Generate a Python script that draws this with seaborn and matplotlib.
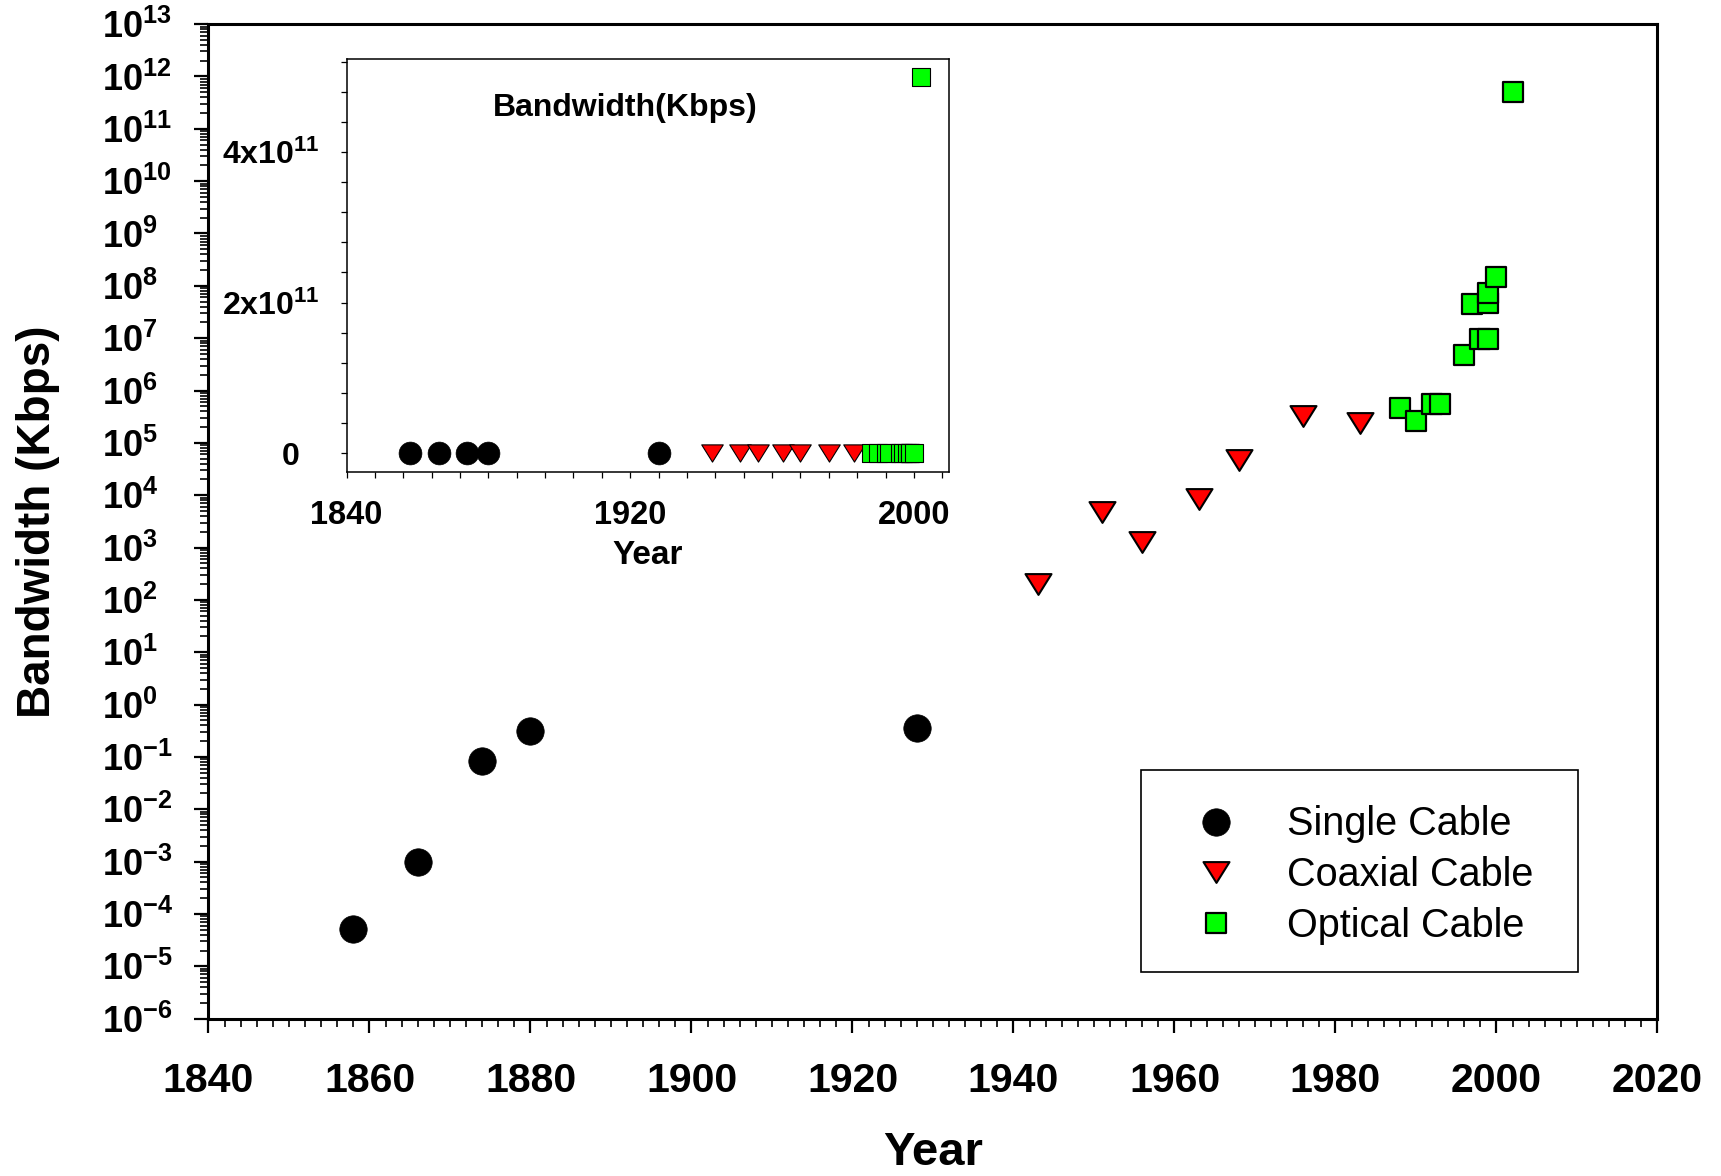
import numpy as np
import pandas as pd
import matplotlib
matplotlib.use("Agg")
import matplotlib.pyplot as plt
import matplotlib.patches as mpatches
import seaborn as sns
from matplotlib.ticker import MultipleLocator, LogLocator, NullFormatter
from matplotlib.markers import MarkerStyle
from matplotlib.path import Path

# ---------------- data ----------------
series_names = ["Single Cable", "Coaxial Cable", "Optical Cable"]

single_years = [1858, 1866, 1874, 1880, 1928]
single_bw = [5.2e-5, 1.0e-3, 8.5e-2, 3.1e-1, 3.6e-1]

coax_years = [1943, 1951, 1956, 1963, 1968, 1976, 1983]
coax_bw = [2.0e2, 4.8e3, 1.3e3, 8.5e3, 4.7e4, 3.2e5, 2.4e5]

optical_years = [1988, 1990, 1992, 1993, 1996, 1997, 1998, 1999, 1999, 1999, 2000, 2002]
optical_bw = [4.7e5, 2.6e5, 5.5e5, 5.5e5, 4.7e6, 4.5e7, 9.5e6, 9.5e6, 4.6e7, 7.4e7, 1.5e8, 5.0e11]

x_ticks = [1840, 1860, 1880, 1900, 1920, 1940, 1960, 1980, 2000, 2020]
x_tick_labels = [str(v) for v in x_ticks]
y_exponents = list(range(-6, 14))
y_tick_labels = [r"$\mathbf{10^{%d}}$" % e for e in y_exponents]

inset_x_ticks = [1840, 1920, 2000]
inset_x_tick_labels = ["1840", "1920", "2000"]
inset_y_ticks = [0, 2e11, 4e11]
inset_y_tick_labels = [r"$\mathbf{0}$", r"$\mathbf{2x10^{11}}$", r"$\mathbf{4x10^{11}}$"]

single_df = pd.DataFrame({"Year": single_years, "Bandwidth": single_bw})
coax_df = pd.DataFrame({"Year": coax_years, "Bandwidth": coax_bw})
optical_df = pd.DataFrame({"Year": optical_years, "Bandwidth": optical_bw})

# ---------------- style ----------------
sns.set_style("white")
plt.rcParams["font.family"] = ["Liberation Sans", "DejaVu Sans"]
plt.rcParams["mathtext.fontset"] = "custom"
plt.rcParams["mathtext.rm"] = "Liberation Sans"
plt.rcParams["mathtext.bf"] = "Liberation Sans:bold"
plt.rcParams["mathtext.it"] = "Liberation Sans:italic"
for key in ["text.color", "axes.labelcolor", "xtick.color", "ytick.color", "axes.edgecolor"]:
    plt.rcParams[key] = "black"

tri_path = Path([(-1, 0.8), (1, 0.8), (0, -0.8), (-1, 0.8)],
                [Path.MOVETO, Path.LINETO, Path.LINETO, Path.CLOSEPOLY])
tri_marker = MarkerStyle(tri_path)

fig = plt.figure(figsize=(17.21, 11.76), dpi=100)
ax = fig.add_axes([0.12115, 0.13384, 0.84190, 0.84566])

sns.scatterplot(data=single_df, x="Year", y="Bandwidth", marker="o", color="black",
                edgecolor="black", linewidth=0.5, s=390, ax=ax, zorder=3, legend=False)
sns.scatterplot(data=coax_df, x="Year", y="Bandwidth", marker=tri_marker, color="#ff0000",
                edgecolor="black", linewidth=1.5, s=350, ax=ax, zorder=3, legend=False)
sns.scatterplot(data=optical_df, x="Year", y="Bandwidth", marker="s", color="#00ff00",
                edgecolor="black", linewidth=1.6, s=228, ax=ax, zorder=3, legend=False)

ax.set_yscale("log")
ax.set_xlim(1840, 2020)
ax.set_ylim(1e-6, 1e13)
ax.set_xticks(x_ticks, x_tick_labels, fontsize=29.5, fontweight="bold")
ax.xaxis.set_minor_locator(MultipleLocator(2))
ax.set_yticks([10.0 ** e for e in y_exponents], y_tick_labels, fontsize=26)
ax.yaxis.set_minor_locator(LogLocator(base=10, subs=np.arange(2, 10) * 1.0, numticks=1000))
ax.yaxis.set_minor_formatter(NullFormatter())

ax.tick_params(axis="both", which="major", direction="out", length=10, width=1.6,
               color="black", bottom=True, left=True, top=False, right=False)
ax.tick_params(axis="both", which="minor", direction="out", length=6, width=1.2,
               color="black", bottom=True, left=True, top=False, right=False)
ax.tick_params(axis="x", which="major", pad=21.5)
ax.tick_params(axis="y", which="major", pad=67)
for lbl in ax.get_yticklabels():
    lbl.set_horizontalalignment("left")

for sp in ax.spines.values():
    sp.set_color("black")
    sp.set_linewidth(2.2)

ax.set_xlabel("Year", fontsize=34, fontweight="bold")
ax.set_ylabel("Bandwidth (Kbps)", fontsize=33, fontweight="bold")
ax.xaxis.set_label_coords(0.5, -0.113)
ax.yaxis.set_label_coords(-0.1025, 0.5)

# legend: frame drawn as a box, entries placed inside it
legend_box = mpatches.Rectangle((0.6433, 0.0469), 0.3016, 0.2031, transform=ax.transAxes,
                                facecolor="white", edgecolor="black", linewidth=1.2,
                                zorder=4, clip_on=False)
ax.add_patch(legend_box)
handles = ax.collections[:3]
leg = ax.legend(handles=handles, labels=series_names, loc="upper left",
                bbox_to_anchor=(0.6433, 0.2434), borderaxespad=0, frameon=False,
                prop={"size": 28.5, "weight": "normal"}, borderpad=0.73,
                handlelength=2.37, handletextpad=0.61, labelspacing=0.32,
                scatterpoints=1, scatteryoffsets=[0.5])
leg.set_zorder(5)

# ---------------- inset ----------------
ax_in = fig.add_axes([0.20134, 0.59889, 0.35032, 0.35136])
ax_in.set_facecolor("white")
sns.scatterplot(data=single_df, x="Year", y="Bandwidth", marker="o", color="black",
                edgecolor="black", linewidth=0.5, s=270, ax=ax_in, zorder=3, legend=False)
sns.scatterplot(data=coax_df, x="Year", y="Bandwidth", marker=tri_marker, color="#ff0000",
                edgecolor="black", linewidth=0.8, s=240, ax=ax_in, zorder=3, legend=False)
sns.scatterplot(data=optical_df, x="Year", y="Bandwidth", marker="s", color="#00ff00",
                edgecolor="black", linewidth=0.8, s=180, ax=ax_in, zorder=3, legend=False)

ax_in.set_xlim(1840, 2010)
ax_in.set_ylim(-2.44e10, 5.24e11)
ax_in.set_xticks(inset_x_ticks, inset_x_tick_labels, fontsize=23.5, fontweight="bold")
ax_in.xaxis.set_minor_locator(MultipleLocator(8))
ax_in.set_yticks(inset_y_ticks, inset_y_tick_labels, fontsize=23)
ax_in.yaxis.set_minor_locator(MultipleLocator(4e10))
ax_in.tick_params(axis="both", which="major", direction="out", length=4.3, width=0.9,
                  color="black", bottom=True, left=True, top=False, right=False)
ax_in.tick_params(axis="both", which="minor", direction="out", length=4.3, width=0.9,
                  color="black", bottom=True, left=True, top=False, right=False)
ax_in.tick_params(axis="x", which="major", pad=16)
ax_in.tick_params(axis="y", which="major", pad=14.8)
ax_in.yaxis.get_major_ticks()[0].set_pad(29.5)
for sp in ax_in.spines.values():
    sp.set_color("black")
    sp.set_linewidth(1.1)
ax_in.set_xlabel("Year", fontsize=24, fontweight="bold")
ax_in.set_ylabel("")
ax_in.xaxis.set_label_coords(0.5, -0.165)
ax_in.text(0.462, 0.881, "Bandwidth(Kbps)", transform=ax_in.transAxes, ha="center",
           va="center", fontsize=23, fontweight="bold")

fig.savefig("out.png", dpi=100)
